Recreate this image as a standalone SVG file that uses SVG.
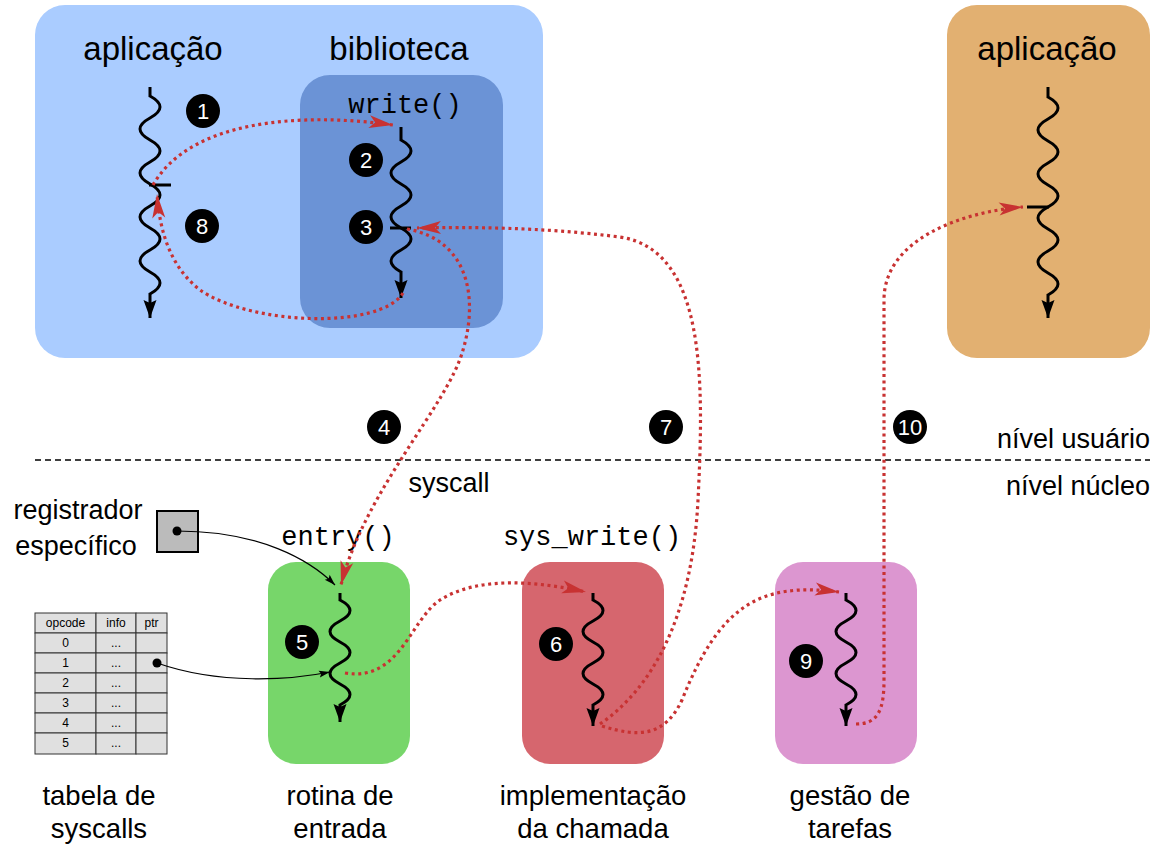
<svg xmlns="http://www.w3.org/2000/svg" width="1165" height="848" viewBox="0 0 1165 848">
<style>
.lbl{font-family:"Liberation Sans",Arial,sans-serif;font-size:27.5px;fill:#000;text-anchor:middle}
.ttl{font-family:"Liberation Sans",Arial,sans-serif;font-size:33px;fill:#000;text-anchor:middle}
.mono{font-family:"Liberation Mono","Courier New",monospace;font-size:27px;fill:#000;text-anchor:middle}
.thr{fill:none;stroke:#000;stroke-width:3;marker-end:url(#ba)}
.bar{stroke:#000;stroke-width:3}
.red{fill:none;stroke:#c83232;stroke-width:3.2;stroke-dasharray:3 3.6;marker-end:url(#ra)}
.thin{fill:none;stroke:#000;stroke-width:1.2;marker-end:url(#sa)}
.bc{fill:#000}
.bn{font-family:"Liberation Sans",Arial,sans-serif;font-size:22px;fill:#fff;text-anchor:middle}
.cell{fill:#e0e0e0;stroke:#333;stroke-width:1}
.tt{font-family:"Liberation Sans",Arial,sans-serif;font-size:12px;fill:#000;text-anchor:middle}
</style>
<defs>
<marker id="ba" markerUnits="userSpaceOnUse" markerWidth="20" markerHeight="14" refX="18" refY="6.5" orient="auto" overflow="visible">
<path d="M0,0 L18,6.5 L0,13 L3,6.5 z" fill="#000"/>
</marker>
<marker id="ra" markerUnits="userSpaceOnUse" markerWidth="26" markerHeight="14" refX="24" refY="6.5" orient="auto" overflow="visible">
<path d="M0,0 L24,6.5 L0,13 L6,6.5 z" fill="#c83232"/>
</marker>
<marker id="sa" markerUnits="userSpaceOnUse" markerWidth="12" markerHeight="8" refX="11" refY="3.5" orient="auto" overflow="visible">
<path d="M0,0 L11,3.5 L0,7 L2,3.5 z" fill="#000"/>
</marker>
</defs>

<g id="user-app">
<rect x="35" y="5" width="508" height="353" rx="30" fill="#aaccff"/>
<text class="ttl" x="153" y="60">aplicação</text>
<path class="thr" d="M150,87 V96 q20,11 0,22 t0,22 t0,22 t0,22 t0,22 t0,22 t0,22 t0,22 t0,22 V318"/>
<line class="bar" x1="149" y1="185" x2="171" y2="185"/>
</g>
<g id="biblioteca">
<text class="ttl" x="399" y="60">biblioteca</text>
<rect x="300" y="75" width="203" height="253" rx="30" fill="#6b93d6"/>
<text class="mono" x="405" y="113">write()</text>
<path class="thr" d="M401,127 V140 q20,11 0,22 t0,22 t0,22 t0,22 t0,22 t0,22 V298"/>
<line class="bar" x1="390" y1="228" x2="411" y2="228"/>
</g>
<g id="app2">
<rect x="947" y="5" width="203" height="353" rx="30" fill="#e2b071"/>
<text class="ttl" x="1047" y="60">aplicação</text>
<path class="thr" d="M1048,87 V97 q20,11 0,22 t0,22 t0,22 t0,22 t0,22 t0,22 t0,22 t0,22 t0,22 V318"/>
<line class="bar" x1="1027" y1="207" x2="1049" y2="207"/>
</g>

<g id="levels">
<line x1="35" y1="460" x2="1150" y2="460" stroke="#000" stroke-width="1.6" stroke-dasharray="6 4"/>
<text class="lbl" x="1150" y="448" style="text-anchor:end;font-size:27px">nível usuário</text>
<text class="lbl" x="1150" y="495" style="text-anchor:end;font-size:27px">nível núcleo</text>
<text class="lbl" x="449" y="492" style="font-size:27px">syscall</text>
</g>

<g id="registrador">
<text class="lbl" x="78" y="519" style="font-size:27px">registrador</text>
<text class="lbl" x="76" y="555" style="font-size:27px">específico</text>
<rect x="157" y="511" width="41" height="41" fill="#bbbbbb" stroke="#000" stroke-width="2"/>
<circle cx="177" cy="531" r="4.5" fill="#000"/>
</g>

<g id="tabela">
<rect class="cell" x="35" y="613" width="61" height="20"/><rect class="cell" x="96" y="613" width="40" height="20"/><rect class="cell" x="136" y="613" width="31" height="20"/>
<rect class="cell" x="35" y="633" width="61" height="20"/><rect class="cell" x="96" y="633" width="40" height="20"/><rect class="cell" x="136" y="633" width="31" height="20"/>
<rect class="cell" x="35" y="653" width="61" height="20"/><rect class="cell" x="96" y="653" width="40" height="20"/><rect class="cell" x="136" y="653" width="31" height="20"/>
<rect class="cell" x="35" y="673" width="61" height="20"/><rect class="cell" x="96" y="673" width="40" height="20"/><rect class="cell" x="136" y="673" width="31" height="20"/>
<rect class="cell" x="35" y="693" width="61" height="20"/><rect class="cell" x="96" y="693" width="40" height="20"/><rect class="cell" x="136" y="693" width="31" height="20"/>
<rect class="cell" x="35" y="713" width="61" height="20"/><rect class="cell" x="96" y="713" width="40" height="20"/><rect class="cell" x="136" y="713" width="31" height="20"/>
<rect class="cell" x="35" y="733" width="61" height="21"/><rect class="cell" x="96" y="733" width="40" height="21"/><rect class="cell" x="136" y="733" width="31" height="21"/>
<text class="tt" x="65.5" y="627">opcode</text><text class="tt" x="116" y="627">info</text><text class="tt" x="151.5" y="627">ptr</text>
<text class="tt" x="65.5" y="647">0</text><text class="tt" x="116" y="647">...</text>
<text class="tt" x="65.5" y="667">1</text><text class="tt" x="116" y="667">...</text>
<text class="tt" x="65.5" y="687">2</text><text class="tt" x="116" y="687">...</text>
<text class="tt" x="65.5" y="707">3</text><text class="tt" x="116" y="707">...</text>
<text class="tt" x="65.5" y="727">4</text><text class="tt" x="116" y="727">...</text>
<text class="tt" x="65.5" y="747">5</text><text class="tt" x="116" y="747">...</text>
<circle cx="157" cy="663" r="4.5" fill="#000"/>
<text class="lbl" x="99" y="805">tabela de</text>
<text class="lbl" x="99" y="838">syscalls</text>
</g>

<g id="entrada">
<rect x="268" y="562" width="142" height="202" rx="28" fill="#77d66a"/>
<text class="mono" x="338" y="545">entry()</text>
<path class="thr" d="M340,593 V600 q20,10.5 0,21 t0,21 t0,21 t0,21 t0,21 V722"/>
<text class="lbl" x="340" y="805">rotina de</text>
<text class="lbl" x="340" y="838">entrada</text>
</g>
<g id="implementacao">
<rect x="522" y="562" width="142" height="202" rx="28" fill="#d6666e"/>
<text class="mono" x="592" y="545">sys_write()</text>
<path class="thr" d="M593,593 V600 q20,10.5 0,21 t0,21 t0,21 t0,21 t0,21 V726"/>
<text class="lbl" x="593" y="805">implementação</text>
<text class="lbl" x="593" y="838">da chamada</text>
</g>
<g id="gestao">
<rect x="775" y="562" width="142" height="202" rx="28" fill="#dc96d0"/>
<path class="thr" d="M846,593 V600 q20,10.5 0,21 t0,21 t0,21 t0,21 t0,21 V726"/>
<text class="lbl" x="850" y="805">gestão de</text>
<text class="lbl" x="850" y="838">tarefas</text>
</g>

<g id="connectors">
<path class="red" d="M153,185 C190,120 300,112 393,125"/>
<path class="red" d="M403,293 C380,330 250,325 200,290 C172,268 160,235 157,194"/>
<path class="red" d="M407,229 C470,240 478,300 463,350 C448,405 365,490 341,585"/>
<path class="red" d="M600,724 C650,690 692,620 698,500 C704,380 706,250 620,237 C540,227 470,227 417,228"/>
<path class="red" d="M345,673 C400,682 410,620 440,600 C480,575 540,582 586,592"/>
<path class="red" d="M602,726 C640,738 665,736 682,700 C720,605 760,582 839,592"/>
<path class="red" d="M856,724 C878,724 884,710 884,680 L884,300 C884,240 960,212 1023,207"/>
<path class="thin" d="M177,531 C260,531 310,560 335,585"/>
<path class="thin" d="M157,663 C220,685 290,680 330,672"/>
</g>

<g id="badges">
<circle class="bc" cx="203" cy="111" r="17"/><text class="bn" x="203" y="119">1</text>
<circle class="bc" cx="366" cy="160" r="17"/><text class="bn" x="366" y="168">2</text>
<circle class="bc" cx="366" cy="227" r="17"/><text class="bn" x="366" y="235">3</text>
<circle class="bc" cx="202" cy="226" r="17"/><text class="bn" x="202" y="234">8</text>
<circle class="bc" cx="384" cy="427" r="17"/><text class="bn" x="384" y="435">4</text>
<circle class="bc" cx="666" cy="427" r="17"/><text class="bn" x="666" y="435">7</text>
<circle class="bc" cx="910" cy="427" r="17"/><text class="bn" x="910" y="435">10</text>
<circle class="bc" cx="302" cy="642" r="17"/><text class="bn" x="302" y="650">5</text>
<circle class="bc" cx="556" cy="644" r="17"/><text class="bn" x="556" y="652">6</text>
<circle class="bc" cx="806" cy="661" r="17"/><text class="bn" x="806" y="669">9</text>
</g>
</svg>
